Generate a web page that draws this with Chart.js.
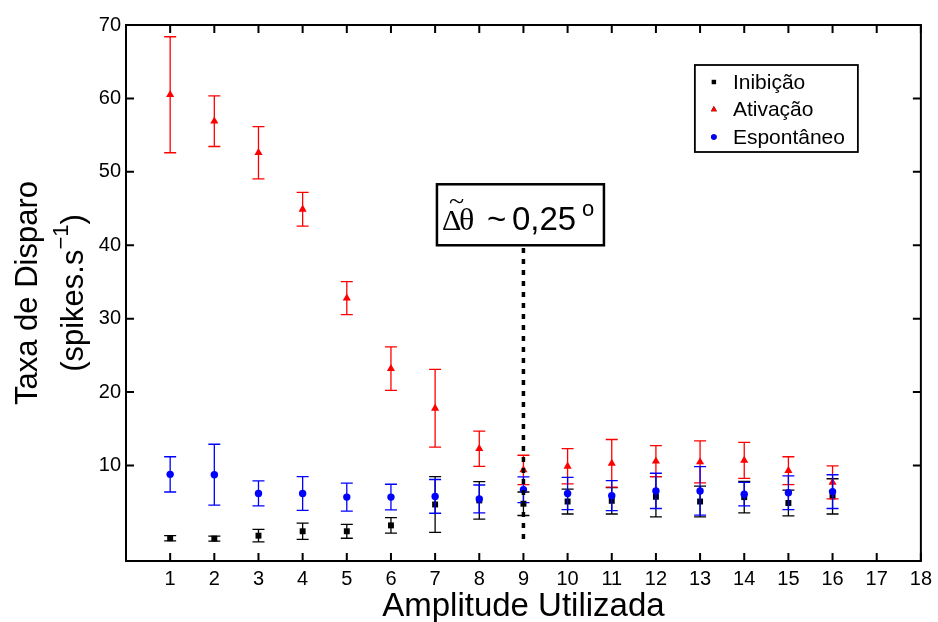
<!DOCTYPE html>
<html>
<head>
<meta charset="utf-8">
<script src="https://cdn.jsdelivr.net/npm/chart.js@4.4.0/dist/chart.umd.min.js"></script>
<style>
  html, body { margin: 0; padding: 0; background: #fff; }
  canvas { display: block; }
</style>
</head>
<body>
<canvas id="chart" width="938" height="622"></canvas>
<script>
// amplitude index on the x axis
const amplitudes = [1, 2, 3, 4, 5, 6, 7, 8, 9, 10, 11, 12, 13, 14, 15, 16]

// firing rate (spikes/s) and error
const inibicao = [0.1, 0.05, 0.45, 1.05, 1.05, 1.85, 4.7, 5.25, 4.8, 5.1, 5.2, 5.75, 5.1, 5.7, 4.9, 5.8]
const inibicaoErr = [0.35, 0.35, 0.85, 1.1, 0.95, 1.05, 3.8, 2.55, 1.6, 1.7, 1.8, 2.75, 2.1, 2.15, 1.75, 2.4]
const ativacao = [60.5, 56.9, 52.6, 44.9, 32.8, 23.2, 17.8, 12.3, 9.4, 9.9, 10.3, 10.6, 10.5, 10.7, 9.3, 7.7]
const ativacaoErr = [7.9, 3.45, 3.55, 2.3, 2.25, 2.95, 5.3, 2.4, 2.0, 2.4, 3.25, 2.1, 2.85, 2.45, 1.9, 2.25]
const espontaneo = [8.8, 8.75, 6.2, 6.2, 5.7, 5.7, 5.8, 5.45, 6.7, 6.2, 5.9, 6.55, 6.55, 6.1, 6.3, 6.45]
const espontaneoErr = [2.4, 4.15, 1.7, 2.3, 1.9, 1.75, 2.3, 1.9, 1.75, 2.2, 2.05, 2.4, 3.3, 1.6, 2.3, 2.3]

const xTicks = [1, 2, 3, 4, 5, 6, 7, 8, 9, 10, 11, 12, 13, 14, 15, 16, 17, 18]
const yTicks = [10, 20, 30, 40, 50, 60, 70]

// threshold marker: dotted line at x = 9 from 0 up to 40
const thresholdX = 9
const thresholdFrom = 0
const thresholdTo = 40

const SANS = '"Liberation Sans", Arial, sans-serif'
const SERIF = '"Liberation Serif", "Times New Roman", serif'

const toPoints = (vals) => amplitudes.map((x, i) => ({ x: x, y: vals[i] }))

const series = [
  { label: 'Inibição', data: inibicao, err: inibicaoErr, color: '#000000', style: 'rect', radius: 4.2, order: 3 },
  { label: 'Ativação', data: ativacao, err: ativacaoErr, color: '#ff0000', style: 'triangle', radius: 4.7, order: 2 },
  { label: 'Espontâneo', data: espontaneo, err: espontaneoErr, color: '#0000ff', style: 'circle', radius: 3.7, order: 1 }
]

const errorBars = {
  id: 'errorBars',
  beforeDatasetDraw(chart, args) {
    const s = series[args.index]
    const yScale = chart.scales.y
    const ctx = chart.ctx
    ctx.save()
    ctx.strokeStyle = s.color
    ctx.lineWidth = 1.3
    args.meta.data.forEach((pt, i) => {
      const top = yScale.getPixelForValue(s.data[i] + s.err[i])
      const bot = yScale.getPixelForValue(s.data[i] - s.err[i])
      ctx.beginPath()
      ctx.moveTo(pt.x, top)
      ctx.lineTo(pt.x, bot)
      ctx.moveTo(pt.x - 6, top)
      ctx.lineTo(pt.x + 6, top)
      ctx.moveTo(pt.x - 6, bot)
      ctx.lineTo(pt.x + 6, bot)
      ctx.stroke()
    })
    ctx.restore()
  }
}

const decorations = {
  id: 'decorations',
  afterDraw(chart) {
    const ctx = chart.ctx
    const a = chart.chartArea
    const xs = chart.scales.x
    const ys = chart.scales.y
    ctx.save()

    // threshold dotted line
    const tx = xs.getPixelForValue(thresholdX)
    const tTop = ys.getPixelForValue(thresholdTo)
    ctx.strokeStyle = '#000'
    ctx.lineWidth = 3.5
    ctx.setLineDash([5, 6])
    ctx.beginPath()
    ctx.moveTo(tx, ys.getPixelForValue(thresholdFrom))
    ctx.lineTo(tx, tTop)
    ctx.stroke()
    ctx.setLineDash([])

    // annotation box
    const bw = 167, bh = 61
    const bx = tx - 3 - bw / 2
    const by = tTop - bh
    ctx.fillStyle = '#fff'
    ctx.fillRect(bx, by, bw, bh)
    ctx.lineWidth = 2.5
    ctx.strokeRect(bx, by, bw, bh)
    ctx.fillStyle = '#000'
    ctx.textBaseline = 'alphabetic'
    ctx.textAlign = 'left'
    const base = by + 46
    ctx.font = '30px ' + SERIF
    ctx.fillText('Δ', bx + 5, base)
    ctx.font = '32px ' + SERIF
    ctx.fillText('θ', bx + 22, base)
    ctx.font = '28px ' + SERIF
    ctx.fillText('~', bx + 12, by + 26)
    ctx.font = '33px ' + SANS
    ctx.fillText('~', bx + 50, base)
    ctx.fillText('0,25', bx + 75, base)
    ctx.font = '22px ' + SANS
    ctx.fillText('o', bx + 145, by + 32)

    // axes box
    ctx.lineWidth = 2
    ctx.strokeRect(a.left, a.top, a.right - a.left, a.bottom - a.top)

    // inward ticks on all four sides
    const tl = 8
    ctx.beginPath()
    xTicks.forEach(v => {
      const p = xs.getPixelForValue(v)
      ctx.moveTo(p, a.bottom)
      ctx.lineTo(p, a.bottom - tl)
      ctx.moveTo(p, a.top)
      ctx.lineTo(p, a.top + tl)
    })
    yTicks.forEach(v => {
      const p = ys.getPixelForValue(v)
      ctx.moveTo(a.left, p)
      ctx.lineTo(a.left + tl, p)
      ctx.moveTo(a.right, p)
      ctx.lineTo(a.right - tl, p)
    })
    ctx.stroke()

    // legend
    const lx = a.right - 229 + 3, ly = a.top + 40, lw = 163, lh = 87
    ctx.fillStyle = '#fff'
    ctx.fillRect(lx, ly, lw, lh)
    ctx.lineWidth = 1.8
    ctx.strokeStyle = '#000'
    ctx.strokeRect(lx, ly, lw, lh)
    ctx.font = '21px ' + SANS
    ctx.textBaseline = 'middle'
    series.forEach((s, i) => {
      const cy = ly + 17 + i * 27.5
      Chart.helpers.drawPoint(ctx, {
        pointStyle: s.style, radius: s.radius * 0.75, borderWidth: 0,
        rotation: 0
      }, lx + 19, cy)
      ctx.fillStyle = s.color
      ctx.fill()
      ctx.fillStyle = '#000'
      ctx.fillText(s.label, lx + 38, cy + 1)
    })

    // axis titles
    ctx.textBaseline = 'alphabetic'
    ctx.textAlign = 'center'
    ctx.font = '33px ' + SANS
    ctx.fillText('Amplitude Utilizada', (a.left + a.right) / 2, 616)

    const cyMid = (a.top + a.bottom) / 2
    ctx.save()
    ctx.translate(37, cyMid)
    ctx.rotate(-Math.PI / 2)
    ctx.font = '31px ' + SANS
    ctx.fillText('Taxa de Disparo', 0, 0)
    ctx.restore()

    ctx.save()
    ctx.translate(83, cyMid)
    ctx.rotate(-Math.PI / 2)
    ctx.textAlign = 'left'
    const big = '31px ' + SANS, small = '22px ' + SANS
    ctx.font = big
    const w1 = ctx.measureText('(spikes.s').width
    const w3 = ctx.measureText(')').width
    ctx.font = small
    const w2 = ctx.measureText('−1').width
    let x0 = -(w1 + w2 + w3) / 2
    ctx.font = big
    ctx.fillText('(spikes.s', x0, 0)
    ctx.font = small
    ctx.fillText('−1', x0 + w1, -15)
    ctx.font = big
    ctx.fillText(')', x0 + w1 + w2, 0)
    ctx.restore()

    ctx.restore()
  }
}

new Chart(document.getElementById('chart'), {
  type: 'scatter',
  data: {
    datasets: series.map(s => ({
      label: s.label,
      data: toPoints(s.data),
      order: s.order,
      pointStyle: s.style,
      pointRadius: s.radius,
      pointBackgroundColor: s.color,
      pointBorderColor: s.color,
      pointBorderWidth: 0,
      showLine: false
    }))
  },
  options: {
    responsive: false,
    animation: false,
    layout: { padding: { left: 0, right: 15, top: 25, bottom: 0 } },
    plugins: {
      legend: { display: false },
      tooltip: { enabled: false }
    },
    scales: {
      x: {
        type: 'linear',
        min: 0,
        max: 18,
        afterBuildTicks: (scale) => { scale.ticks = xTicks.map(v => ({ value: v })) },
        afterFit: (scale) => { scale.height = 61 },
        grid: { display: false, drawTicks: false },
        border: { display: false },
        ticks: { color: '#000', padding: 6, maxRotation: 0, autoSkip: false, font: { family: SANS, size: 20 } }
      },
      y: {
        type: 'linear',
        min: -3,
        max: 70,
        afterBuildTicks: (scale) => { scale.ticks = yTicks.map(v => ({ value: v })) },
        afterFit: (scale) => { scale.width = 126 },
        grid: { display: false, drawTicks: false },
        border: { display: false },
        ticks: { color: '#000', padding: 5, autoSkip: false, font: { family: SANS, size: 20 } }
      }
    }
  },
  plugins: [errorBars, decorations]
})
</script>
</body>
</html>
